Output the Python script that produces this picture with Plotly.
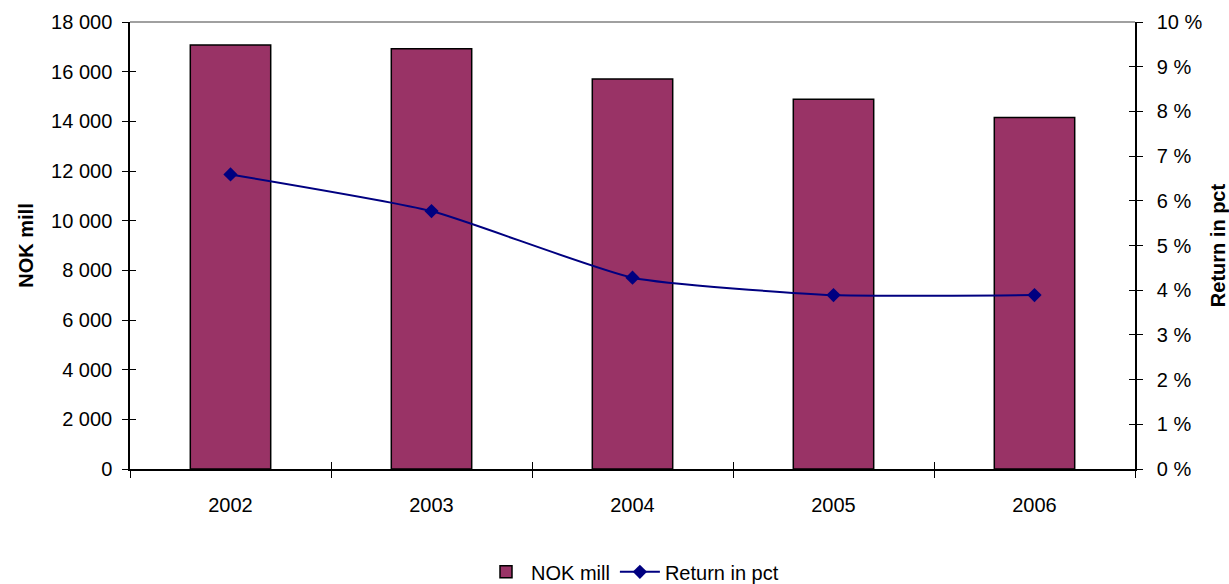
import plotly.graph_objects as go

years = ["2002", "2003", "2004", "2005", "2006"]
nok_mill = [17070, 16920, 15700, 14890, 14150]
return_pct = [6.59, 5.77, 4.28, 3.89, 3.89]

left_ticks = [0, 2000, 4000, 6000, 8000, 10000, 12000, 14000, 16000, 18000]
right_ticks = list(range(0, 11))
right_labels = [f"{v} %" for v in right_ticks]

FONT = "Liberation Sans"
FS = 20

fig = go.Figure()
fig.add_trace(go.Bar(
    x=years, y=nok_mill, name="NOK mill",
    marker=dict(color="#993366", line=dict(color="#000000", width=1.5)),
    yaxis="y", xaxis="x",
))
fig.add_trace(go.Scatter(
    x=years, y=return_pct, name="Return in pct",
    mode="lines+markers",
    line=dict(color="#000080", width=2, shape="spline", smoothing=0.5),
    marker=dict(symbol="diamond", size=11, color="#000080"),
    yaxis="y2", xaxis="x",
))
# invisible helper traces so the inner-tick overlay axes get drawn
fig.add_trace(go.Scatter(x=years, y=nok_mill, xaxis="x2", yaxis="y3", mode="none",
                         showlegend=False, hoverinfo="skip"))
fig.add_trace(go.Scatter(x=years, y=return_pct, xaxis="x", yaxis="y4", mode="none",
                         showlegend=False, hoverinfo="skip"))

common_tick = dict(color="#000000", size=FS, family=FONT)

fig.update_layout(
    width=1229, height=584,
    margin=dict(l=130, r=94, t=22, b=115, autoexpand=False),
    paper_bgcolor="white", plot_bgcolor="white",
    separators=", ",
    bargap=0.6,
    showlegend=True,
    legend=dict(orientation="h", x=0.5, xanchor="center", y=-0.23, yanchor="middle",
                font=dict(family=FONT, size=FS, color="#000000"),
                itemwidth=40, tracegroupgap=0),
    xaxis=dict(
        type="category", range=[-0.5, 4.5],
        showline=True, linecolor="#000000", linewidth=1.5,
        ticks="outside", ticklen=7, tickwidth=1, tickcolor="#000000",
        tickson="boundaries", showgrid=False, zeroline=False,
        tickfont=common_tick, ticklabelstandoff=17,
    ),
    xaxis2=dict(
        type="category", range=[-0.5, 4.5], overlaying="x", anchor="y",
        categoryarray=years, categoryorder="array",
        showline=False, ticks="inside", ticklen=7, tickwidth=1, tickcolor="#000000",
        tickson="boundaries", showgrid=False, zeroline=False, showticklabels=False,
    ),
    yaxis=dict(
        range=[0, 18000], tickvals=left_ticks, tickformat=",.0f",
        showline=True, linecolor="#000000", linewidth=1.5,
        ticks="outside", ticklen=6, tickwidth=1, tickcolor="#000000",
        showgrid=False, zeroline=False,
        tickfont=common_tick, ticklabelstandoff=6,
        title=dict(text="<b>NOK mill</b>", font=dict(family=FONT, size=FS, color="#000000"), standoff=12),
    ),
    yaxis3=dict(
        range=[0, 18000], tickvals=left_ticks, overlaying="y", anchor="x2", side="left",
        showline=False, ticks="inside", ticklen=6, tickwidth=1, tickcolor="#000000",
        showgrid=False, zeroline=False, showticklabels=False,
    ),
    yaxis2=dict(
        range=[0, 10], tickvals=right_ticks, ticktext=right_labels,
        overlaying="y", side="right", anchor="x",
        showline=True, linecolor="#000000", linewidth=1.5,
        ticks="outside", ticklen=6, tickwidth=1, tickcolor="#000000",
        showgrid=False, zeroline=False,
        tickfont=common_tick, ticklabelstandoff=10,
        title=dict(text="<b>Return in pct</b>", font=dict(family=FONT, size=FS, color="#000000"), standoff=10),
    ),
    yaxis4=dict(
        range=[0, 10], tickvals=right_ticks, overlaying="y", side="right", anchor="x",
        showline=False, ticks="inside", ticklen=6, tickwidth=1, tickcolor="#000000",
        showgrid=False, zeroline=False, showticklabels=False,
    ),
    shapes=[dict(type="line", xref="paper", yref="paper", x0=0, x1=1, y0=1, y1=1,
                 line=dict(color="#808080", width=1.5))],
)

fig.write_html("out.html")
